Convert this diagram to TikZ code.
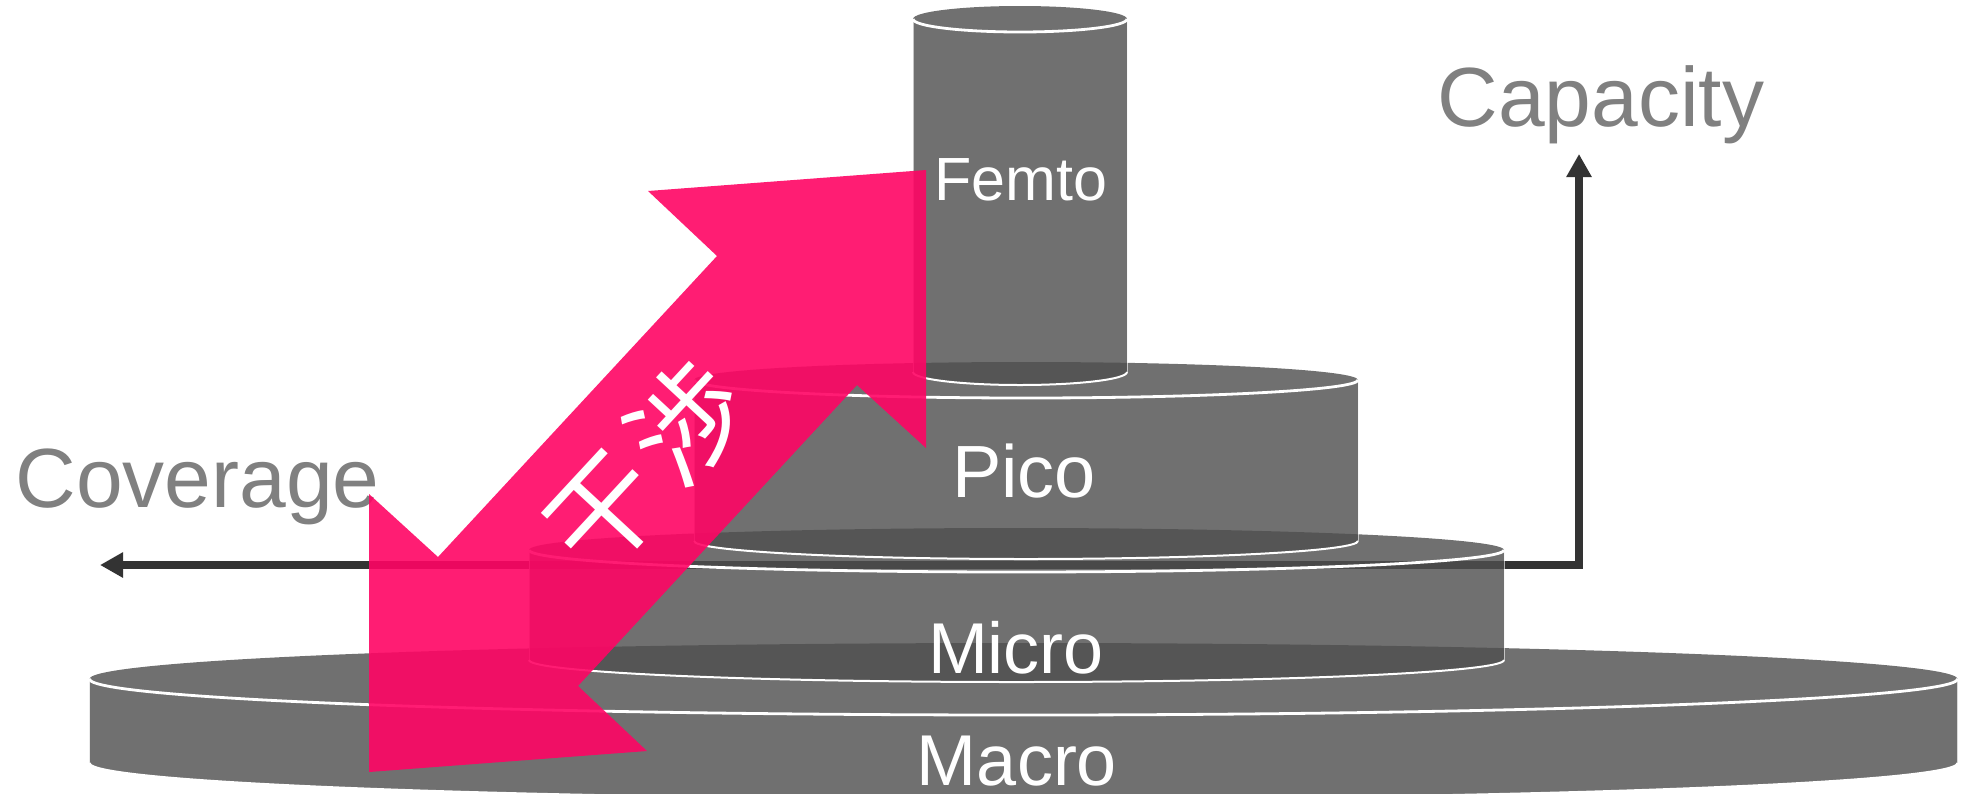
\documentclass[tikz,border=0pt]{standalone}
\usepackage{fontspec}
\setmainfont{Liberation Sans}
\newfontfamily\jpfont{Noto Sans CJK JP}
\usetikzlibrary{arrows.meta}
\definecolor{cangray}{RGB}{79,79,79}
\definecolor{pinkarrow}{RGB}{255,4,100}
\definecolor{axisgray}{RGB}{51,51,51}
\definecolor{labelgray}{RGB}{128,128,128}
\tikzset{
  canbody/.style={fill=cangray, fill opacity=0.81},
  cantop/.style={draw=white, line width=1.4pt},
  canbot/.style={draw=white, line width=1pt},
  canside/.style={draw=white, line width=0.5pt, draw opacity=0.6},
  axisline/.style={draw=axisgray, line width=4pt,
    {Triangle[length=11.5pt,width=12pt]}-{Triangle[length=11.5pt,width=12pt]}},
  axislabel/.style={text=labelgray, inner sep=0pt, font=\fontsize{42}{42}\selectfont},
  canlabel/.style={text=white, inner sep=0pt},
  bigarrow/.style={fill=pinkarrow, fill opacity=0.9},
}
% #1 cx, #2 y top, #3 y bottom, #4 rx, #5 ry  (pixel units, y downward)
\newcommand\drawcan[5]{%
  \fill[canbody] (#1-#4,-#2) arc[start angle=180,end angle=0,x radius=#4,y radius=#5]
     -- (#1+#4,-#3) arc[start angle=0,end angle=-180,x radius=#4,y radius=#5] -- cycle;
  \draw[canside] (#1-#4,-#2) -- (#1-#4,-#3) (#1+#4,-#2) -- (#1+#4,-#3);
  \draw[canbot] (#1-#4,-#3) arc[start angle=180,end angle=360,x radius=#4,y radius=#5];
  \draw[cantop] (#1-#4,-#2) arc[start angle=180,end angle=360,x radius=#4,y radius=#5];
}
\begin{document}
\begin{tikzpicture}[x=0.5pt,y=0.5pt]
\useasboundingbox (0,0) rectangle (1962,-793);
% axes
\coordinate (covtip) at (100,-565);
\coordinate (captip) at (1579,-154);
\draw[axisline] (covtip) -| (captip);
% cylinders
\drawcan{1023.5}{679}{763}{934}{36}
\drawcan{1016.5}{550}{660}{487.5}{22}
\drawcan{1026}{380}{541}{332}{18}
\drawcan{1020}{19}{372}{107}{13}
% axis labels
\node[axislabel, anchor=base west] (coverage) at (15,-507) {Coverage};
\node[axislabel, anchor=base west] (capacity) at (1437,-126) {Capacity};
% interference arrow
\fill[bigarrow] (926,-170) -- (648,-191) -- (717,-256) -- (438,-557) -- (369,-494)
  -- (369,-772) -- (647,-751) -- (578,-686) -- (857,-385) -- (926,-448) -- cycle;
\node[canlabel, rotate=47.2, font=\jpfont\fontsize{56}{56}\selectfont] (kansho) at (645,-466) {干\hspace{5pt}渉};
% cylinder labels
\node[canlabel, anchor=base, font=\fontsize{30.5}{30.5}\selectfont] (femto) at (1021,-200) {Femto};
\node[canlabel, anchor=base, font=\fontsize{37}{37}\selectfont] (pico) at (1024,-497) {Pico};
\node[canlabel, anchor=base, font=\fontsize{36}{36}\selectfont] (micro) at (1016,-673) {Micro};
\node[canlabel, anchor=base, font=\fontsize{36}{36}\selectfont] (macro) at (1017,-785) {Macro};
\end{tikzpicture}
\end{document}
